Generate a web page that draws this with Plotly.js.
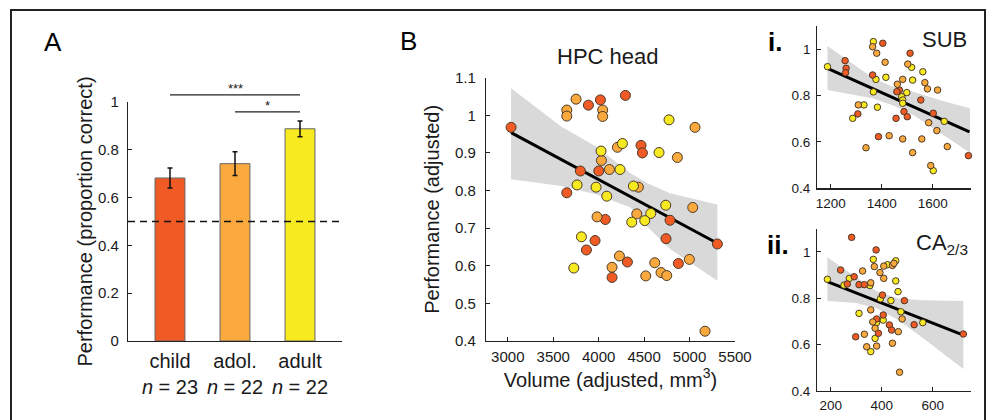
<!DOCTYPE html>
<html><head><meta charset="utf-8">
<script src="https://cdn.plot.ly/plotly-3.0.1.min.js"></script>
<style>html,body{margin:0;padding:0;background:#fff}#chart{width:992px;height:420px}</style>
</head><body><div id="chart"></div><script>
// ---------- Panel A: bar chart ----------
const groups = ['child', 'adol.', 'adult'];
const groupN = [23, 22, 22];
const meanPerf = [0.682, 0.742, 0.888];
const semPerf = [0.042, 0.050, 0.033];
const chanceLevel = 0.5;
const sigFrom = [1, 2];
const sigTo = [3, 3];
const sigLevel = [1.03, 0.959];
const sigText = ['***', '*'];
const groupColors = ['#F05A24', '#F9A93D', '#F8EA20'];

// ---------- Panel B: HPC head (0 child, 1 adol., 2 adult) ----------
const hpcVol = [3036,3887,4019,3799,4001,3649,4073,3960,3865,4147,4294,4466,4481,4785,4741,5306,4316,4877,
  3751,3649,3649,4044,4044,4030,4118,3982,4147,5060,4206,4866,5035,4419,4228,4617,4518,4686,4749,4998,5170,4437,
  4026,3762,3971,4089,3810,3726,4774,4261,4664,4235,4382,4738,4573,4364,4507];
const hpcPerf = [0.968,1.027,1.041,0.852,0.852,0.794,0.723,0.667,0.642,0.569,1.053,0.920,0.900,0.721,0.672,0.658,0.610,0.606,
  1.043,1.014,0.998,1.014,0.997,0.880,0.856,0.730,0.596,0.968,0.915,0.888,0.755,0.738,0.626,0.608,0.573,0.582,0.574,0.617,0.426,0.809,
  0.905,0.815,0.809,0.785,0.677,0.594,0.988,0.925,0.901,0.856,0.812,0.761,0.739,0.716,0.720];
const hpcGroup = [0,0,0,0,0,0,0,0,0,0,0,0,0,0,0,0,0,0,
  1,1,1,1,1,1,1,1,1,1,1,1,1,1,1,1,1,1,1,1,1,1,
  2,2,2,2,2,2,2,2,2,2,2,2,2,2,2];
const hpcFitX = [3036, 5306];
const hpcFitY = [0.954, 0.660];
const hpcBandX = [3036, 3587, 3970, 4350, 4530, 4783, 5306];
const hpcBandHi = [1.072, 0.970, 0.917, 0.846, 0.820, 0.793, 0.763];
const hpcBandLo = [0.830, 0.812, 0.790, 0.755, 0.705, 0.645, 0.560];

// ---------- Panel i: SUB ----------
const subVol = [1187,1367,1377,1416,1367,1330,1286,1383,1517,1521,1498,1478,1482,1482,1561,1645,1602,
  1256,1260,1258,1404,1364,1306,1387,1511,1469,1459,1553,1487,1500,1456,1602,1740,
  1364,1380,1413,1308,1429,1338,1502,1461,1482,1482,1521,1557,1569,1579,1619,1584,1616,1657,1592];
const subPerf = [0.925,1.033,0.870,0.879,0.816,0.760,0.702,0.750,0.922,0.867,0.813,0.795,0.781,0.767,0.903,0.689,0.476,
  0.951,0.918,0.899,1.026,0.889,0.721,0.623,0.983,0.824,0.817,0.781,0.731,0.709,0.702,0.724,0.541,
  1.011,0.983,0.944,0.760,0.627,0.575,0.936,0.849,0.870,0.613,0.554,0.613,0.856,0.829,0.824,0.683,0.649,0.580,0.498];
const subGroup = [2,2,2,2,2,2,2,2,2,2,2,2,2,2,2,2,2,
  0,0,0,0,0,0,0,0,0,0,0,0,0,0,0,0,
  1,1,1,1,1,1,1,1,1,1,1,1,1,1,1,1,1,1,1];
const subFitX = [1187, 1744];
const subFitY = [0.918, 0.644];
const subBandX = [1187, 1367, 1450, 1524, 1629, 1746];
const subBandHi = [1.014, 0.875, 0.835, 0.817, 0.780, 0.745];
const subBandLo = [0.824, 0.788, 0.755, 0.716, 0.637, 0.553];

// ---------- Panel ii: CA2/3 ----------
const caVol = [187,252,273,354,367,423,455,395,455,464,436,475,561,311,380,406,374,357,
  239,265,292,282,311,332,378,403,489,527,380,406,387,430,439,298,720,
  325,357,371,393,408,442,448,408,480,357,365,374,465,332,341,380,442,470];
const caPerf = [0.882,0.857,0.886,0.855,0.968,0.945,0.962,0.798,0.875,0.829,0.790,0.742,0.695,0.735,0.695,0.706,0.627,0.570,
  0.922,0.862,0.893,1.063,0.859,0.859,1.009,0.814,0.790,0.686,0.711,0.728,0.649,0.685,0.663,0.634,0.646,
  0.918,0.867,0.937,0.911,0.939,0.942,0.951,0.886,0.711,0.750,0.698,0.671,0.656,0.645,0.591,0.594,0.606,0.481];
const caGroup = [2,2,2,2,2,2,2,2,2,2,2,2,2,2,2,2,2,2,
  0,0,0,0,0,0,0,0,0,0,0,0,0,0,0,0,0,
  1,1,1,1,1,1,1,1,1,1,1,1,1,1,1,1,1,1];
const caFitX = [187, 720];
const caFitY = [0.872, 0.641];
const caBandX = [187, 300, 380, 460, 560, 720];
const caBandHi = [0.977, 0.890, 0.830, 0.800, 0.792, 0.788];
const caBandLo = [0.788, 0.780, 0.757, 0.710, 0.630, 0.495];

// ---------- layout helpers ----------
const W = 992, H = 420;
const FONT = 'Arial, "Liberation Sans", Helvetica, sans-serif';
const TXT = '#1a1a1a';
const dx = (a, b) => [a / W, b / W];
const dy = (top, bottom) => [1 - bottom / H, 1 - top / H];
const px = v => v / W, py = v => 1 - v / H;

const axisBase = (size, standoff) => ({
  showline: true, linecolor: '#222', linewidth: 1.2, ticks: 'inside', ticklen: 4,
  tickcolor: '#222', tickwidth: 1, showgrid: false, zeroline: false, fixedrange: true,
  automargin: false, ticklabelstandoff: standoff, tickfont: {family: FONT, size: size, color: TXT}
});

const traces = [];
const xCat = [1, 2, 3];
// Panel A bars
traces.push({
  type: 'bar', x: xCat, y: meanPerf, width: 0.46, xaxis: 'x', yaxis: 'y',
  marker: {color: groupColors, line: {color: '#666', width: 1}},
  error_y: {type: 'data', array: semPerf, visible: true, color: '#111', thickness: 1.5, width: 2.5},
  hoverinfo: 'skip'
});

function scatterPanel(vol, perf, grp, fitX, fitY, bX, bHi, bLo, xa, ya, msize) {
  traces.push({
    type: 'scatter', mode: 'lines', xaxis: xa, yaxis: ya,
    x: bX.concat(bX.slice().reverse()), y: bHi.concat(bLo.slice().reverse()),
    fill: 'toself', fillcolor: '#d9d9d9', line: {width: 0}, hoverinfo: 'skip'
  });
  traces.push({
    type: 'scatter', mode: 'lines', xaxis: xa, yaxis: ya, x: fitX, y: fitY,
    line: {color: '#000', width: 3}, hoverinfo: 'skip'
  });
  traces.push({
    type: 'scatter', mode: 'markers', xaxis: xa, yaxis: ya, x: vol, y: perf,
    marker: {size: msize, color: grp.map(g => groupColors[g]), line: {color: '#4a3a2a', width: 1}},
    cliponaxis: false, hoverinfo: 'skip'
  });
}
scatterPanel(hpcVol, hpcPerf, hpcGroup, hpcFitX, hpcFitY, hpcBandX, hpcBandHi, hpcBandLo, 'x2', 'y2', 10);
scatterPanel(subVol, subPerf, subGroup, subFitX, subFitY, subBandX, subBandHi, subBandLo, 'x3', 'y3', 6.5);
scatterPanel(caVol, caPerf, caGroup, caFitX, caFitY, caBandX, caBandHi, caBandLo, 'x4', 'y4', 6.5);

const yARange = [0, 1];
const shapes = [
  // outer frame
  {type: 'rect', xref: 'paper', yref: 'paper', x0: px(11), x1: px(985), y0: -0.1, y1: py(10),
   line: {color: '#222', width: 2}},
  // chance line
  {type: 'line', xref: 'x domain', yref: 'y', x0: 0, x1: 1, y0: chanceLevel, y1: chanceLevel,
   line: {color: '#111', width: 1.5, dash: '7px,5px'}}
];
const annotations = [];
sigFrom.forEach((f, i) => {
  const fr = (sigLevel[i] - yARange[0]) / (yARange[1] - yARange[0]);
  shapes.push({type: 'line', xref: 'x', yref: 'y domain', x0: f, x1: sigTo[i], y0: fr, y1: fr,
    line: {color: '#222', width: 1.2}});
  annotations.push({xref: 'x', yref: 'y domain', x: (f + sigTo[i]) / 2, y: fr, yanchor: 'bottom',
    text: sigText[i], showarrow: false, yshift: -3, font: {family: FONT, size: 13, color: TXT}});
});

const lab = (text, x, y, size, extra) => Object.assign({
  xref: 'paper', yref: 'paper', x: px(x), y: py(y), text: text, showarrow: false,
  xanchor: 'center', yanchor: 'middle', font: {family: FONT, size: size, color: '#000'}
}, extra || {});
annotations.push(lab('A', 53, 42, 26));
annotations.push(lab('B', 408, 41, 26));
annotations.push(lab('HPC head', 608, 57, 22, {font: {family: FONT, size: 22, color: TXT}}));
annotations.push(lab('<b>i.</b>', 775, 42, 26, {font: {family: 'Arial Black, "Liberation Sans", sans-serif', size: 26, color: '#000'}}));
annotations.push(lab('<b>ii.</b>', 778, 245, 26, {font: {family: 'Arial Black, "Liberation Sans", sans-serif', size: 26, color: '#000'}}));
annotations.push(lab('SUB', 969, 39, 22, {xanchor: 'right', font: {family: FONT, size: 22, color: TXT}}));
annotations.push(lab('CA<sub>2/3</sub>', 970, 244, 22, {xanchor: 'right', font: {family: FONT, size: 22, color: TXT}}));

const layout = {
  width: W, height: H, margin: {l: 0, r: 0, t: 0, b: 0},
  paper_bgcolor: '#fff', plot_bgcolor: 'rgba(0,0,0,0)', showlegend: false,
  font: {family: FONT, color: TXT},
  xaxis: Object.assign(axisBase(20, 2), {domain: dx(128, 342), range: [0.354, 3.646],
    tickvals: xCat, ticktext: groups.map((g, i) => g + '<br><i>n</i> = ' + groupN[i]), ticks: '', anchor: 'y'}),
  yaxis: Object.assign(axisBase(15, 5), {domain: dy(102, 341), range: yARange, tickvals: [0, 0.2, 0.4, 0.6, 0.8, 1],
    anchor: 'x', title: {text: 'Performance (proportion correct)', font: {family: FONT, size: 20, color: TXT}, standoff: 0}}),
  xaxis2: Object.assign(axisBase(15, 2), {domain: dx(486, 735), range: [2760, 5500],
    tickvals: [3000, 3500, 4000, 4500, 5000, 5500], anchor: 'y2',
    title: {text: 'Volume (adjusted, mm<sup>3</sup>)', font: {family: FONT, size: 20, color: TXT}, standoff: 8}}),
  yaxis2: Object.assign(axisBase(15, 6), {domain: dy(77.7, 341), range: [0.4, 1.1],
    tickvals: [0.4, 0.5, 0.6, 0.7, 0.8, 0.9, 1, 1.1], anchor: 'x2',
    title: {text: 'Performance (adjusted)', font: {family: FONT, size: 20, color: TXT}, standoff: 10}}),
  xaxis3: Object.assign(axisBase(13.5, 2), {domain: dx(817.3, 971), range: [1147, 1750],
    tickvals: [1200, 1400, 1600], anchor: 'y3'}),
  yaxis3: Object.assign(axisBase(13.5, 3), {domain: dy(26.1, 188.3), range: [0.4, 1.1],
    tickvals: [0.4, 0.6, 0.8, 1], anchor: 'x3'}),
  xaxis4: Object.assign(axisBase(13.5, 2), {domain: dx(817.3, 971), range: [147.5, 750],
    tickvals: [200, 400, 600], anchor: 'y4'}),
  yaxis4: Object.assign(axisBase(13.5, 3), {domain: dy(228.8, 391), range: [0.4, 1.1],
    tickvals: [0.4, 0.6, 0.8, 1], anchor: 'x4'}),
  shapes: shapes, annotations: annotations
};
Plotly.newPlot('chart', traces, layout, {staticPlot: true, displayModeBar: false});
</script></body></html>
